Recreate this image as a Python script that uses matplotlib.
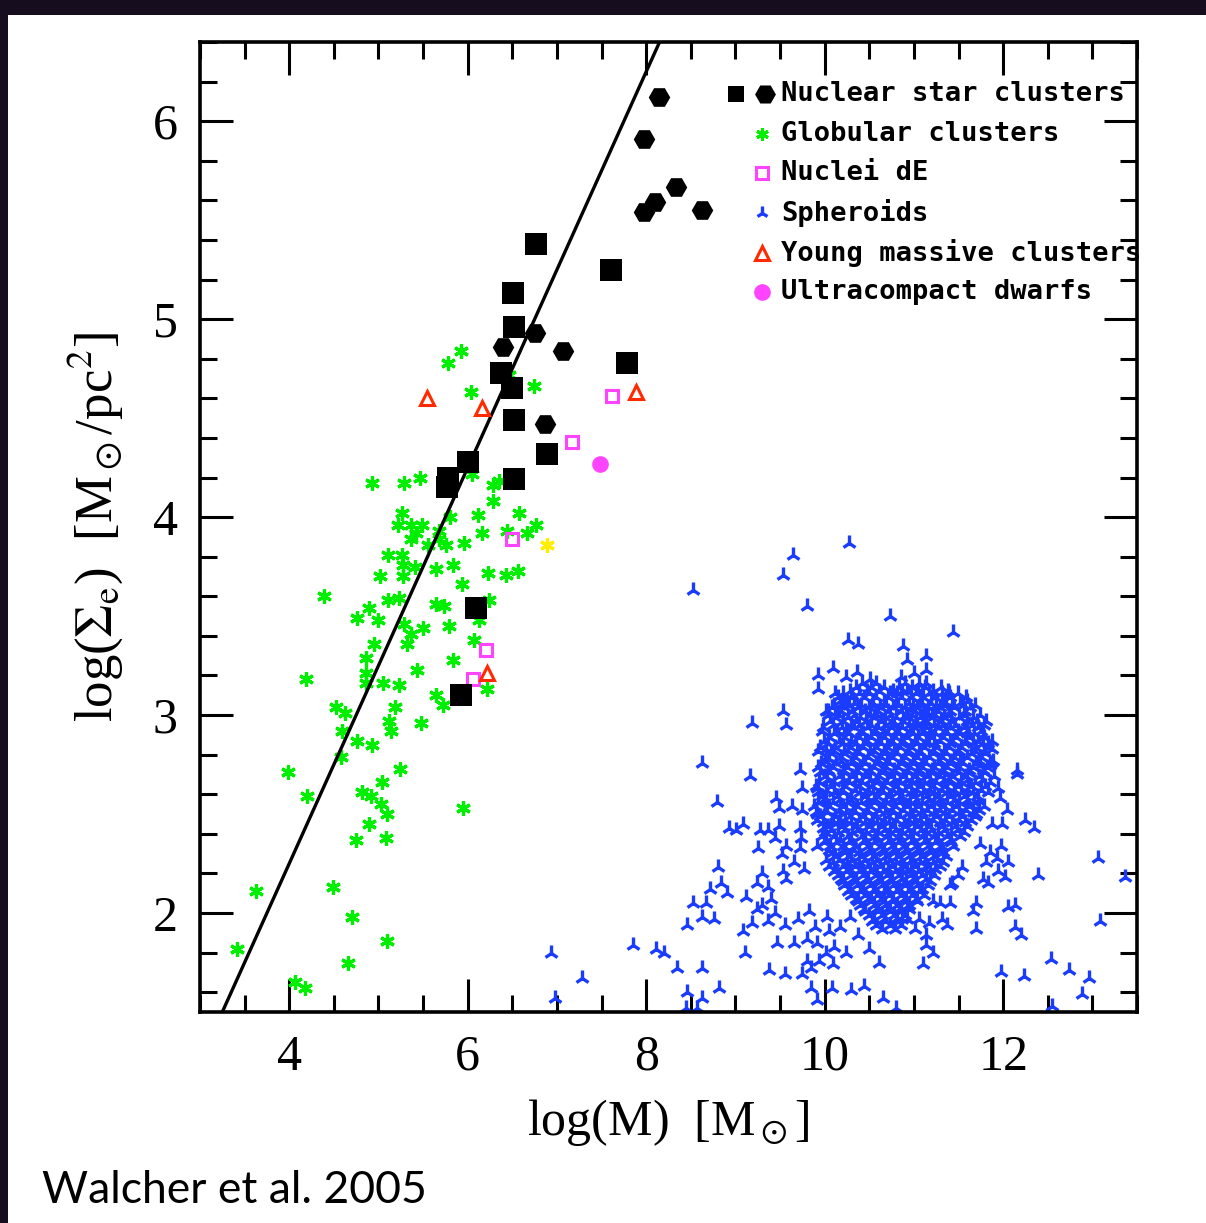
import matplotlib
matplotlib.use("Agg")
import matplotlib.pyplot as plt
from matplotlib.patches import Rectangle
from matplotlib.ticker import MultipleLocator

# ---------------- data (log M, log Sigma_e) ----------------
nsc_sq_x = [6.77, 7.61, 6.51, 6.52, 6.37, 6.50, 7.78, 6.52, 6.89, 6.00, 5.78, 5.77, 6.52, 6.09, 5.93]
nsc_sq_y = [5.38, 5.25, 5.13, 4.96, 4.73, 4.65, 4.78, 4.49, 4.32, 4.28, 4.20, 4.15, 4.19, 3.54, 3.10]

nsc_hex_x = [8.14, 7.98, 8.33, 8.10, 7.97, 8.62, 6.75, 6.39, 7.07, 6.87]
nsc_hex_y = [6.12, 5.91, 5.67, 5.59, 5.54, 5.55, 4.93, 4.86, 4.84, 4.47]

gc_x = [5.92, 5.78, 6.04, 6.74, 6.46, 4.93, 5.29, 5.47, 6.05, 6.28, 6.35, 6.28, 5.26, 5.80,
        6.11, 6.58, 6.76, 5.22, 5.37, 5.49, 5.42, 5.36, 5.68, 5.68, 5.56, 5.76, 5.96, 6.16,
        6.44, 6.66, 5.11, 5.26, 5.28, 5.41, 5.65, 5.83, 5.02, 5.27, 6.23, 6.43, 6.56, 5.94,
        4.39, 5.11, 5.23, 5.65, 5.73, 6.24, 4.89, 4.76, 4.99, 5.29, 5.50, 5.79, 6.13, 5.37,
        5.32, 4.95, 6.07, 4.86, 5.84, 5.43, 4.86, 4.19, 5.05, 5.23, 4.86, 6.22, 5.64, 5.72,
        5.18, 4.52, 4.62, 5.12, 5.14, 5.48, 4.59, 4.76, 4.93, 4.58, 5.24, 3.99, 5.04, 4.81,
        4.92, 5.03, 5.09, 4.20, 4.89, 4.75, 5.08, 5.95, 3.63, 4.49, 4.70, 5.09, 3.41, 4.66,
        4.07, 4.18]
gc_y = [4.84, 4.78, 4.63, 4.66, 4.72, 4.17, 4.17, 4.20, 4.22, 4.16, 4.18, 4.08, 4.02, 4.00,
        4.01, 4.02, 3.96, 3.96, 3.96, 3.96, 3.92, 3.89, 3.93, 3.89, 3.86, 3.86, 3.87, 3.92,
        3.93, 3.92, 3.81, 3.81, 3.76, 3.75, 3.74, 3.76, 3.70, 3.70, 3.72, 3.71, 3.73, 3.66,
        3.60, 3.58, 3.59, 3.56, 3.55, 3.58, 3.54, 3.49, 3.48, 3.46, 3.44, 3.45, 3.48, 3.41,
        3.36, 3.36, 3.38, 3.29, 3.28, 3.23, 3.21, 3.18, 3.16, 3.15, 3.16, 3.13, 3.10, 3.05,
        3.04, 3.04, 3.01, 2.97, 2.92, 2.96, 2.92, 2.87, 2.85, 2.79, 2.73, 2.71, 2.66, 2.61,
        2.59, 2.55, 2.50, 2.59, 2.45, 2.37, 2.38, 2.53, 2.11, 2.13, 1.98, 1.86, 1.82, 1.75,
        1.65, 1.62]

gc_extra_x = [6.89]
gc_extra_y = [3.86]

de_x = [7.62, 7.17, 6.50, 6.21, 6.06]
de_y = [4.61, 4.38, 3.89, 3.33, 3.18]

ymc_x = [5.54, 6.16, 7.89, 6.22]
ymc_y = [4.60, 4.55, 4.63, 3.21]

ucd_x = [7.48]
ucd_y = [4.27]

sph_x = [10.27, 9.64, 9.53, 8.52, 9.80, 10.73, 10.26, 10.37, 10.09, 9.92, 10.36, 10.24, 10.51,
         9.93, 10.12, 10.17, 10.31, 10.24, 9.53, 10.04, 9.19, 9.57, 8.62, 10.02, 10.05,
         11.44, 10.88, 11.14, 10.92, 11.14, 11.00, 10.86, 11.13, 10.87, 11.39, 11.60, 11.32,
         11.43, 11.81, 11.10, 11.59, 11.77, 11.77, 11.88, 11.74, 11.85, 12.15,
         9.16, 8.79, 9.46, 9.75, 9.91, 9.72, 10.02, 9.49, 9.63, 9.75, 9.91, 8.93, 9.01, 9.08,
         9.27, 9.36, 9.49, 9.44, 9.72, 9.74, 9.98, 10.09, 10.17, 9.25, 9.57, 9.52, 9.72, 9.91,
         8.80, 9.30, 9.53, 9.66, 9.77, 9.57, 9.24, 9.36, 8.84, 8.71, 8.90, 9.12, 9.40, 8.52,
         8.67, 8.62, 8.76, 8.46, 9.24, 9.30, 9.44, 9.19, 9.36, 9.55, 9.70, 9.83, 9.08, 9.89,
         10.03, 10.17, 10.28, 10.05, 9.47, 9.66, 9.80, 9.91, 10.11, 9.11, 8.20, 10.02, 10.24,
         10.37, 10.50, 9.80, 9.94, 10.09, 10.61, 8.35, 8.62, 9.38, 9.55, 9.75, 9.85, 8.82,
         9.85, 10.08, 10.30, 10.44, 10.65, 8.46, 8.62, 9.91, 8.45, 8.57, 10.80,
         12.15, 11.94, 11.96, 12.04, 12.24, 12.35, 11.70, 11.87, 11.99, 11.74, 11.98, 11.85,
         11.93, 12.05, 11.81, 11.54, 11.94, 11.77, 12.02, 11.83, 12.39, 13.06, 13.36, 11.49,
         11.43, 11.40, 11.70, 11.66, 12.05, 12.13, 11.29, 11.40, 11.21, 10.92, 10.87, 11.06,
         11.31, 11.17, 11.37, 11.70, 12.13, 12.20, 13.08, 11.01, 11.13, 11.14, 11.21, 11.10,
         12.54, 12.74, 11.98, 12.23, 12.96, 12.88, 12.55,
         6.93, 6.98, 7.28, 7.85, 8.11]
sph_y = [3.87, 3.81, 3.71, 3.63, 3.55, 3.50, 3.38, 3.36, 3.24, 3.20, 3.22, 3.19, 3.18,
         3.13, 3.11, 3.07, 3.10, 3.06, 3.02, 3.02, 2.96, 2.95, 2.76, 2.83, 2.78,
         3.42, 3.35, 3.30, 3.28, 3.23, 3.21, 3.19, 3.16, 3.12, 3.11, 3.07, 3.06,
         3.05, 2.97, 2.97, 2.91, 2.90, 2.86, 2.83, 2.75, 2.75, 2.72,
         2.69, 2.56, 2.58, 2.63, 2.63, 2.72, 2.57, 2.53, 2.54, 2.52, 2.50, 2.43, 2.42, 2.45,
         2.42, 2.42, 2.44, 2.38, 2.43, 2.38, 2.43, 2.46, 2.47, 2.33, 2.34, 2.30, 2.33, 2.34,
         2.23, 2.20, 2.21, 2.26, 2.22, 2.17, 2.15, 2.13, 2.15, 2.12, 2.10, 2.08, 2.07, 2.05,
         2.05, 1.98, 1.97, 1.94, 2.02, 2.04, 2.00, 1.95, 1.96, 1.94, 1.97, 2.01, 1.91, 1.93,
         1.98, 1.93, 1.98, 1.91, 1.85, 1.85, 1.87, 1.85, 1.83, 1.80, 1.80, 1.80, 1.80,
         1.89, 1.82, 1.76, 1.76, 1.74, 1.75, 1.72, 1.72, 1.71, 1.69, 1.69, 1.72, 1.62,
         1.62, 1.62, 1.61, 1.63, 1.57, 1.60, 1.57, 1.56, 1.52, 1.52, 1.52,
         2.70, 2.63, 2.58, 2.52, 2.47, 2.43, 2.50, 2.45, 2.45, 2.35, 2.34, 2.31,
         2.28, 2.26, 2.26, 2.23, 2.21, 2.17, 2.18, 2.15, 2.19, 2.28, 2.18, 2.19,
         2.15, 2.14, 2.05, 2.01, 2.03, 2.04, 2.05, 2.05, 2.06, 2.03, 1.97, 1.97,
         1.97, 1.95, 1.94, 1.92, 1.93, 1.89, 1.96, 1.92, 1.89, 1.84, 1.80, 1.74,
         1.77, 1.71, 1.70, 1.68, 1.67, 1.59, 1.53,
         1.80, 1.57, 1.67, 1.84, 1.82]

# dense core of the spheroid cloud, read row by row (three passes)
core_rows_y = [3.14, 3.09, 3.04, 2.99, 2.94, 2.89, 2.84, 2.79, 2.74, 2.69, 2.64, 2.59, 2.54,
               2.49, 2.44, 2.39, 2.34, 2.29, 2.24, 2.19, 2.14, 2.09, 2.04, 1.99, 1.94]
core_rows_x = [
    [10.35, 10.52, 10.66, 10.83, 10.98, 11.12, 11.30],
    [10.15, 10.30, 10.44, 10.58, 10.71, 10.86, 10.97, 11.10, 11.24, 11.41, 11.58],
    [10.08, 10.22, 10.37, 10.50, 10.62, 10.77, 10.90, 11.03, 11.16, 11.29, 11.45, 11.63],
    [10.12, 10.26, 10.40, 10.55, 10.68, 10.80, 10.93, 11.07, 11.20, 11.34, 11.50, 11.66],
    [9.98, 10.19, 10.33, 10.47, 10.60, 10.74, 10.87, 11.00, 11.13, 11.27, 11.41, 11.56, 11.72],
    [10.05, 10.22, 10.38, 10.52, 10.66, 10.79, 10.92, 11.05, 11.19, 11.33, 11.47, 11.62, 11.78],
    [9.95, 10.12, 10.28, 10.43, 10.57, 10.70, 10.84, 10.97, 11.11, 11.25, 11.39, 11.53, 11.68, 11.84],
    [10.02, 10.18, 10.34, 10.49, 10.63, 10.76, 10.90, 11.03, 11.17, 11.31, 11.45, 11.60, 11.75],
    [9.92, 10.09, 10.25, 10.40, 10.55, 10.69, 10.82, 10.96, 11.09, 11.23, 11.37, 11.51, 11.66, 11.82],
    [10.00, 10.16, 10.31, 10.46, 10.61, 10.74, 10.88, 11.01, 11.15, 11.29, 11.43, 11.58, 11.73, 11.90],
    [9.90, 10.07, 10.23, 10.38, 10.53, 10.67, 10.80, 10.94, 11.07, 11.21, 11.35, 11.49, 11.64, 11.80],
    [9.97, 10.14, 10.30, 10.45, 10.59, 10.72, 10.86, 10.99, 11.13, 11.27, 11.41, 11.56, 11.71],
    [9.88, 10.05, 10.21, 10.36, 10.51, 10.65, 10.79, 10.92, 11.05, 11.19, 11.33, 11.47, 11.62, 11.78],
    [9.95, 10.12, 10.28, 10.43, 10.57, 10.71, 10.84, 10.98, 11.11, 11.25, 11.39, 11.54, 11.69],
    [10.03, 10.19, 10.35, 10.50, 10.64, 10.77, 10.90, 11.04, 11.17, 11.31, 11.46, 11.60],
    [9.97, 10.10, 10.26, 10.42, 10.56, 10.70, 10.83, 10.96, 11.10, 11.23, 11.37, 11.52],
    [10.06, 10.20, 10.34, 10.49, 10.63, 10.76, 10.89, 11.02, 11.16, 11.30, 11.44],
    [10.12, 10.27, 10.41, 10.55, 10.69, 10.82, 10.95, 11.09, 11.22, 11.36],
    [10.05, 10.20, 10.34, 10.48, 10.62, 10.75, 10.88, 11.01, 11.15, 11.29],
    [10.15, 10.29, 10.43, 10.57, 10.70, 10.83, 10.96, 11.09, 11.23],
    [10.22, 10.36, 10.51, 10.64, 10.77, 10.90, 11.03, 11.16],
    [10.30, 10.45, 10.59, 10.72, 10.85, 10.98, 11.11],
    [10.40, 10.55, 10.68, 10.81, 10.94],
    [10.50, 10.64, 10.78, 10.90],
    [10.58, 10.73, 10.86],
]
core2_rows_y = [3.12, 3.06, 3.02, 2.97, 2.91, 2.87, 2.81, 2.76, 2.72, 2.66, 2.62, 2.56,
                2.52, 2.47, 2.41, 2.37, 2.31, 2.27, 2.21, 2.17, 2.11, 2.07, 2.01, 1.96]
core2_rows_x = [
    [10.28, 10.47, 10.61, 10.77, 10.92, 11.05, 11.21, 11.38],
    [10.21, 10.33, 10.54, 10.66, 10.80, 10.95, 11.09, 11.19, 11.36, 11.52],
    [10.02, 10.18, 10.31, 10.45, 10.60, 10.71, 10.85, 11.01, 11.12, 11.27, 11.40, 11.57],
    [10.06, 10.21, 10.35, 10.46, 10.63, 10.75, 10.88, 11.02, 11.14, 11.30, 11.42, 11.60, 11.71],
    [10.10, 10.27, 10.43, 10.55, 10.71, 10.83, 10.99, 11.09, 11.24, 11.37, 11.52, 11.67],
    [9.99, 10.16, 10.30, 10.47, 10.60, 10.74, 10.88, 11.01, 11.14, 11.29, 11.43, 11.58, 11.72, 11.87],
    [10.07, 10.22, 10.38, 10.51, 10.66, 10.81, 10.93, 11.08, 11.21, 11.36, 11.49, 11.64, 11.80],
    [9.96, 10.13, 10.29, 10.45, 10.58, 10.72, 10.86, 10.99, 11.13, 11.27, 11.41, 11.55, 11.70, 11.86],
    [10.04, 10.21, 10.35, 10.50, 10.66, 10.78, 10.92, 11.06, 11.20, 11.33, 11.47, 11.62, 11.77],
    [9.94, 10.11, 10.27, 10.42, 10.57, 10.70, 10.84, 10.98, 11.11, 11.25, 11.39, 11.53, 11.69, 11.85],
    [10.02, 10.19, 10.34, 10.49, 10.63, 10.77, 10.90, 11.03, 11.18, 11.31, 11.45, 11.61, 11.75],
    [9.93, 10.09, 10.25, 10.41, 10.55, 10.69, 10.83, 10.96, 11.09, 11.23, 11.37, 11.51, 11.67],
    [10.00, 10.17, 10.32, 10.47, 10.61, 10.75, 10.88, 11.01, 11.15, 11.29, 11.43, 11.58, 11.73],
    [9.91, 10.08, 10.23, 10.39, 10.53, 10.67, 10.80, 10.94, 11.07, 11.21, 11.35, 11.50, 11.64],
    [10.00, 10.15, 10.31, 10.46, 10.60, 10.73, 10.87, 11.00, 11.13, 11.27, 11.42, 11.56],
    [10.02, 10.17, 10.30, 10.45, 10.59, 10.73, 10.86, 10.99, 11.13, 11.27, 11.40],
    [10.09, 10.23, 10.38, 10.52, 10.66, 10.79, 10.92, 11.06, 11.19, 11.33],
    [10.02, 10.16, 10.30, 10.44, 10.58, 10.72, 10.85, 10.98, 11.12, 11.26],
    [10.10, 10.24, 10.38, 10.51, 10.65, 10.79, 10.92, 11.05, 11.18],
    [10.18, 10.32, 10.46, 10.60, 10.73, 10.86, 10.99, 11.13],
    [10.26, 10.40, 10.54, 10.67, 10.80, 10.93, 11.06],
    [10.35, 10.49, 10.63, 10.77, 10.89, 11.02],
    [10.45, 10.60, 10.73, 10.85],
    [10.53, 10.68, 10.81],
]
core3_rows_y = [3.16, 3.11, 3.05, 3.00, 2.95, 2.92, 2.86, 2.82, 2.77, 2.71, 2.67, 2.61, 2.57,
                2.51, 2.46, 2.42, 2.36, 2.32, 2.26, 2.22, 2.16, 2.12, 2.06, 2.02, 1.97, 1.92]
core3_rows_x = [
    [10.42, 10.58, 10.90, 11.06],
    [10.20, 10.39, 10.50, 10.73, 10.81, 11.02, 11.17, 11.31, 11.49],
    [10.11, 10.27, 10.41, 10.53, 10.69, 10.82, 10.99, 11.07, 11.25, 11.34, 11.55, 11.68],
    [10.04, 10.16, 10.33, 10.51, 10.59, 10.73, 10.91, 10.98, 11.16, 11.24, 11.39, 11.56, 11.74],
    [10.09, 10.29, 10.39, 10.52, 10.68, 10.78, 10.95, 11.04, 11.22, 11.32, 11.46, 11.65, 11.79],
    [9.97, 10.14, 10.24, 10.41, 10.58, 10.66, 10.81, 10.96, 11.11, 11.18, 11.35, 11.49, 11.60, 11.75],
    [10.04, 10.20, 10.35, 10.45, 10.63, 10.77, 10.86, 11.03, 11.17, 11.23, 11.40, 11.57, 11.66, 11.83],
    [9.93, 10.10, 10.26, 10.36, 10.55, 10.69, 10.78, 10.95, 11.06, 11.23, 11.34, 11.51, 11.69, 11.78],
    [10.00, 10.18, 10.32, 10.43, 10.61, 10.70, 10.88, 11.00, 11.10, 11.29, 11.43, 11.52, 11.73, 11.89],
    [9.95, 10.05, 10.22, 10.37, 10.52, 10.64, 10.79, 10.93, 11.04, 11.19, 11.31, 11.50, 11.61, 11.79],
    [10.03, 10.20, 10.35, 10.51, 10.60, 10.78, 10.91, 11.03, 11.18, 11.34, 11.41, 11.60, 11.76],
    [9.92, 10.10, 10.21, 10.40, 10.54, 10.65, 10.82, 10.97, 11.10, 11.22, 11.37, 11.53, 11.66, 11.83],
    [9.98, 10.16, 10.29, 10.47, 10.58, 10.74, 10.87, 11.02, 11.16, 11.28, 11.45, 11.59, 11.72],
    [9.90, 10.03, 10.24, 10.34, 10.49, 10.68, 10.77, 10.96, 11.08, 11.23, 11.35, 11.51, 11.66],
    [9.98, 10.15, 10.30, 10.45, 10.59, 10.72, 10.89, 11.00, 11.14, 11.29, 11.43, 11.57],
    [10.07, 10.22, 10.36, 10.53, 10.66, 10.79, 10.93, 11.08, 11.19, 11.34, 11.48],
    [9.99, 10.13, 10.27, 10.43, 10.55, 10.71, 10.82, 10.97, 11.11, 11.24, 11.42],
    [10.05, 10.21, 10.33, 10.50, 10.64, 10.77, 10.90, 11.03, 11.17, 11.29],
    [10.09, 10.25, 10.39, 10.53, 10.68, 10.80, 10.96, 11.07, 11.21, 11.33],
    [10.13, 10.27, 10.42, 10.55, 10.71, 10.85, 10.97, 11.12, 11.24],
    [10.21, 10.35, 10.49, 10.63, 10.76, 10.91, 11.02, 11.18],
    [10.28, 10.43, 10.56, 10.70, 10.83, 10.97, 11.09],
    [10.37, 10.52, 10.66, 10.75, 10.91, 11.04],
    [10.44, 10.57, 10.70, 10.83, 10.95],
    [10.55, 10.66, 10.80, 10.92],
    [10.64, 10.79],
]

# relation line: log Sigma_e = log M + intercept
line_slope = 1.0
line_intercept = -1.75

legend_labels = ["Nuclear star clusters", "Globular clusters", "Nuclei dE",
                 "Spheroids", "Young massive clusters", "Ultracompact dwarfs"]

x_ticks = [4, 6, 8, 10, 12]
y_ticks = [2, 3, 4, 5, 6]

# ---------------- styles ----------------
C_GREEN = "#00ee00"
C_BLUE = "#1a3cff"
C_MAG = "#ff44ff"
C_RED = "#ff2a00"
C_YEL = "#ffee00"

plt.rcParams["mathtext.fontset"] = "stix"

fig = plt.figure(figsize=(12.06, 12.23), dpi=100)
fig.patch.set_facecolor("#160d1e")
fig.add_artist(Rectangle((8 / 1206, 0), 1 - 8 / 1206, (1223 - 15) / 1223,
                         transform=fig.transFigure, facecolor="white",
                         edgecolor="none", zorder=-10))

ax = fig.add_axes([200 / 1206, (1223 - 1012) / 1223, 937 / 1206, 970 / 1223])
ax.set_facecolor("white")


def flatten_rows(rows_y, rows_x):
    xs = [x for row in rows_x for x in row]
    ys = [y for y, row in zip(rows_y, rows_x) for _ in row]
    return xs, ys


c1x, c1y = flatten_rows(core_rows_y, core_rows_x)
c2x, c2y = flatten_rows(core2_rows_y, core2_rows_x)
c3x, c3y = flatten_rows(core3_rows_y, core3_rows_x)

# spheroids
ax.plot(sph_x + c1x + c2x + c3x, sph_y + c1y + c2y + c3y, ls="none", marker="2",
        ms=11, mew=2.4, color=C_BLUE, zorder=2)

# globular clusters
ax.plot(gc_x, gc_y, ls="none", marker=(6, 2, 0), ms=10.5, mew=2.3, color=C_GREEN, zorder=3)
ax.plot(gc_extra_x, gc_extra_y, ls="none", marker=(6, 2, 0), ms=10.5, mew=2.3,
        color=C_YEL, zorder=3)

# relation line
ax.axline((0, line_intercept), slope=line_slope, color="black", lw=2.4, zorder=4)

# nuclei dE, YMC, UCD
ax.plot(de_x, de_y, ls="none", marker="s", ms=9, mew=2.2, mfc="none", mec=C_MAG, zorder=5)
ax.plot(ymc_x, ymc_y, ls="none", marker="^", ms=10.5, mew=2.2, mfc="none", mec=C_RED, zorder=5)
ax.plot(ucd_x, ucd_y, ls="none", marker="o", ms=12, mew=0, color=C_MAG, zorder=5)

# nuclear star clusters
ax.plot(nsc_sq_x, nsc_sq_y, ls="none", marker="s", ms=15.5, mew=0, color="black", zorder=6)
ax.plot(nsc_hex_x, nsc_hex_y, ls="none", marker="H", ms=15.5, mew=0, color="black", zorder=6)

# axes
ax.set_xlim(3.0, 13.5)
ax.set_ylim(1.5, 6.4)
ax.set_xticks(x_ticks)
ax.set_yticks(y_ticks)
ax.xaxis.set_minor_locator(MultipleLocator(0.5))
ax.yaxis.set_minor_locator(MultipleLocator(0.2))
for s in ax.spines.values():
    s.set_linewidth(2.6)
ax.tick_params(which="both", direction="in", top=True, right=True, width=2.2)
ax.tick_params(which="major", length=24, labelsize=36, pad=16)
ax.tick_params(which="minor", length=12)
for lab in ax.get_xticklabels() + ax.get_yticklabels():
    lab.set_family("Liberation Serif")

ax.set_xlabel(r"log(M)  [M$_\odot$]", fontsize=36, family="Liberation Serif", labelpad=12)
ax.set_ylabel(r"log($\Sigma_{\rm e}$)  [M$_\odot$/pc$^2$]", fontsize=38,
              family="Liberation Serif", labelpad=20)

# legend drawn in axes coordinates
leg_y = [0.9465, 0.9052, 0.8650, 0.8238, 0.7825, 0.7423]
tx = 0.620
mx = 0.5998
for lab, yy in zip(legend_labels, leg_y):
    ax.text(tx, yy, lab, transform=ax.transAxes, fontsize=19.5, fontweight="bold",
            family="DejaVu Sans Mono", va="center", ha="left", clip_on=False, zorder=8)
kw = dict(transform=ax.transAxes, ls="none", clip_on=False, zorder=8)
ax.plot([0.572], [leg_y[0]], marker="s", ms=11.5, mew=0, color="black", **kw)
ax.plot([0.6035], [leg_y[0]], marker="H", ms=15, mew=0, color="black", **kw)
ax.plot([mx], [leg_y[1]], marker=(6, 2, 0), ms=9, mew=2.2, color=C_GREEN, **kw)
ax.plot([mx], [leg_y[2]], marker="s", ms=8.5, mew=2.2, mfc="none", mec=C_MAG, **kw)
ax.plot([mx], [leg_y[3]], marker="2", ms=9.5, mew=2.4, color=C_BLUE, **kw)
ax.plot([mx], [leg_y[4]], marker="^", ms=10.5, mew=2.2, mfc="none", mec=C_RED, **kw)
ax.plot([mx], [leg_y[5]], marker="o", ms=12, mew=0, color=C_MAG, **kw)

fig.text(42 / 1206, 20 / 1223, "Walcher et al. 2005", fontsize=32, family="Lato",
         ha="left", va="baseline")

fig.savefig("out.png", dpi=100, facecolor=fig.get_facecolor())
